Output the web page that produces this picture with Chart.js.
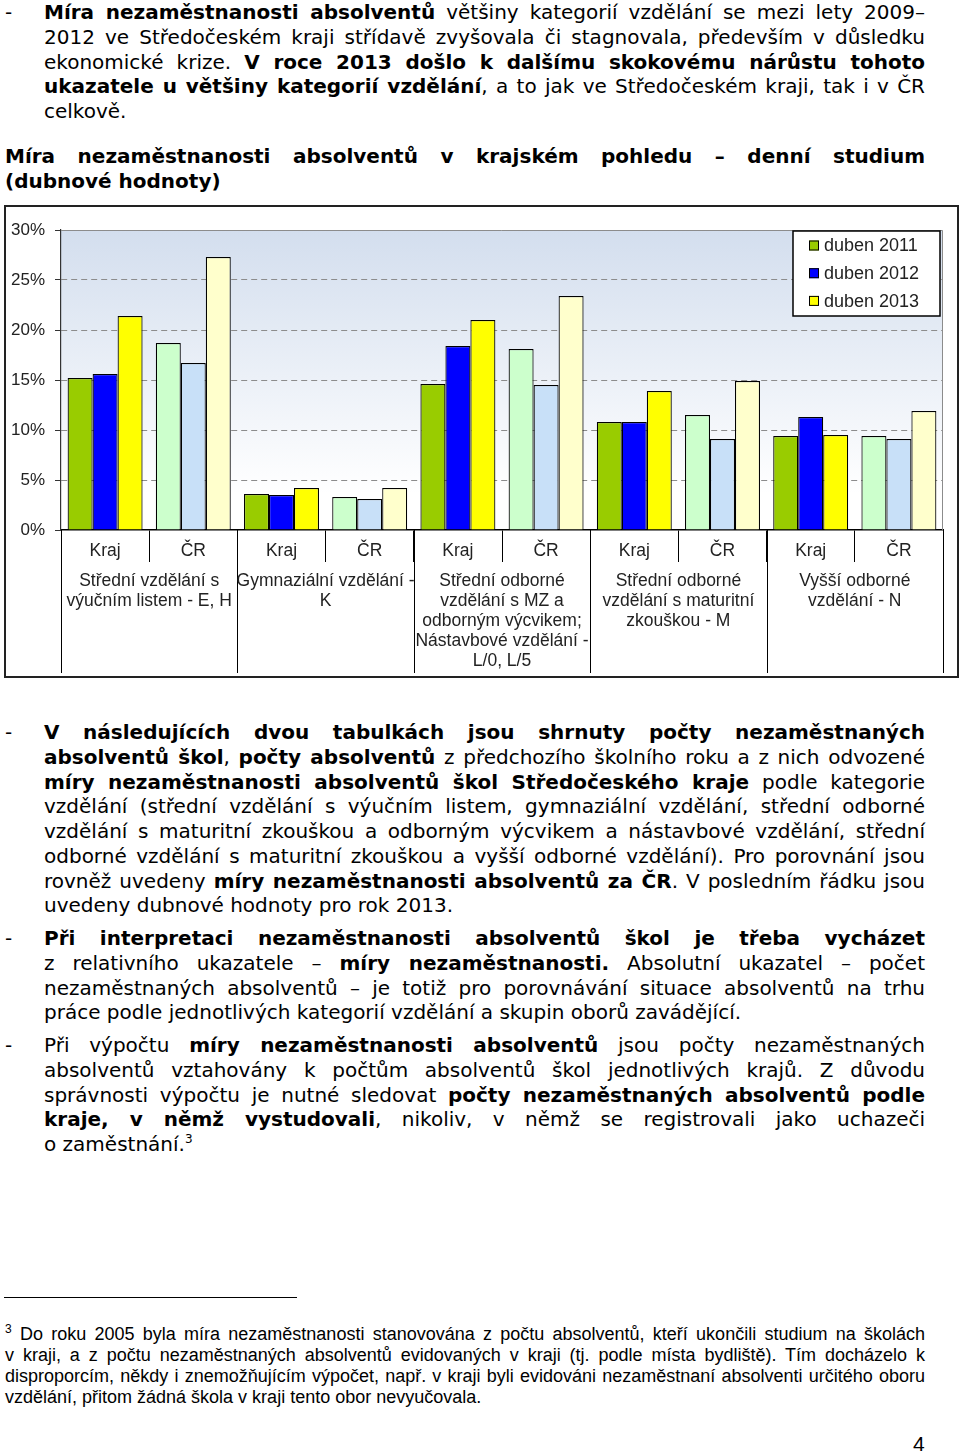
<!DOCTYPE html>
<html>
<head>
<meta charset="utf-8">
<script src="https://cdn.jsdelivr.net/npm/chart.js@4.4.1/dist/chart.umd.min.js"></script>
<style>
  body { margin: 0; width: 960px; height: 1456px; position: relative; overflow: hidden; background: #fff; color: #000;
         font-family: "DejaVu Sans", Verdana, sans-serif; }
  .blk { position: absolute; left: 44px; width: 881px; font-size: 20px; line-height: 24.75px; }
  .blk div { text-align: justify; text-align-last: justify; }
  .blk div.end { text-align-last: left; }
  .dash { position: absolute; left: -39px; top: 0; }
  .head { left: 5px; width: 920px; font-weight: bold; }
  sup { font-size: 12px; line-height: 0; }
  #box { position: absolute; left: 4px; top: 205px; width: 955px; height: 473px; border: 2px solid #222; box-sizing: border-box; }
  #rule { position: absolute; left: 4px; top: 1297px; width: 293px; height: 0; border-top: 1px solid #000; }
  .note { position: absolute; left: 5px; width: 920px; top: 1324px; font-family: "Liberation Sans", Arial, sans-serif; font-size: 18px; line-height: 21px; }
  .note div { text-align: justify; text-align-last: justify; }
  .note div.end { text-align-last: left; }
  .note sup { font-size: 12px; }
  #pg { position: absolute; left: 913px; top: 1432px; font-family: "Liberation Sans", Arial, sans-serif; font-size: 21px; }
</style>
</head>
<body>

<div class="blk" style="top:0px">
  <span class="dash">-</span>
  <div><b>Míra nezaměstnanosti absolventů</b> většiny kategorií vzdělání se mezi lety 2009–</div>
  <div>2012 ve Středočeském kraji střídavě zvyšovala či stagnovala, především v důsledku</div>
  <div>ekonomické krize. <b>V roce 2013 došlo k dalšímu skokovému nárůstu tohoto</b></div>
  <div><b>ukazatele u většiny kategorií vzdělání</b>, a to jak ve Středočeském kraji, tak i v ČR</div>
  <div class="end">celkově.</div>
</div>

<div class="blk head" style="top:144px">
  <div>Míra nezaměstnanosti absolventů v krajském pohledu – denní studium</div>
  <div class="end">(dubnové hodnoty)</div>
</div>

<div id="box"><canvas id="chart"></canvas></div>

<div class="blk" style="top:720px">
  <span class="dash">-</span>
  <div><b>V následujících dvou tabulkách jsou shrnuty počty nezaměstnaných</b></div>
  <div><b>absolventů škol</b>, <b>počty absolventů</b> z předchozího školního roku a z nich odvozené</div>
  <div><b>míry nezaměstnanosti absolventů škol Středočeského kraje</b> podle kategorie</div>
  <div>vzdělání (střední vzdělání s výučním listem, gymnaziální vzdělání, střední odborné</div>
  <div>vzdělání s maturitní zkouškou a odborným výcvikem a nástavbové vzdělání, střední</div>
  <div>odborné vzdělání s maturitní zkouškou a vyšší odborné vzdělání). Pro porovnání jsou</div>
  <div>rovněž uvedeny <b>míry nezaměstnanosti absolventů za ČR</b>. V posledním řádku jsou</div>
  <div class="end">uvedeny dubnové hodnoty pro rok 2013.</div>
</div>

<div class="blk" style="top:926px">
  <span class="dash">-</span>
  <div><b>Při interpretaci nezaměstnanosti absolventů škol je třeba vycházet</b></div>
  <div>z relativního ukazatele – <b>míry nezaměstnanosti.</b> Absolutní ukazatel – počet</div>
  <div>nezaměstnaných absolventů – je totiž pro porovnávání situace absolventů na trhu</div>
  <div class="end">práce podle jednotlivých kategorií vzdělání a skupin oborů zavádějící.</div>
</div>

<div class="blk" style="top:1033px">
  <span class="dash">-</span>
  <div>Při výpočtu <b>míry nezaměstnanosti absolventů</b> jsou počty nezaměstnaných</div>
  <div>absolventů vztahovány k počtům absolventů škol jednotlivých krajů. Z důvodu</div>
  <div>správnosti výpočtu je nutné sledovat <b>počty nezaměstnaných absolventů podle</b></div>
  <div><b>kraje, v němž vystudovali</b>, nikoliv, v němž se registrovali jako uchazeči</div>
  <div class="end">o zaměstnání.<sup>3</sup></div>
</div>

<div id="rule"></div>
<div class="note">
  <div><sup>3</sup> Do roku 2005 byla míra nezaměstnanosti stanovována z počtu absolventů, kteří ukončili studium na školách</div>
  <div>v kraji, a z počtu nezaměstnaných absolventů evidovaných v kraji (tj. podle místa bydliště). Tím docházelo k</div>
  <div>disproporcím, někdy i znemožňujícím výpočet, např. v kraji byli evidováni nezaměstnaní absolventi určitého oboru</div>
  <div class="end">vzdělání, přitom žádná škola v kraji tento obor nevyučovala.</div>
</div>
<div id="pg">4</div>

<script>
// keep every text line on one line: tighten letters a little if a line would wrap
document.querySelectorAll(".blk div, .note div").forEach((el) => {
  const lh = parseFloat(getComputedStyle(el).lineHeight);
  let ls = 0;
  while (el.offsetHeight > lh * 1.5 && ls > -2) {
    ls -= 0.05;
    el.style.letterSpacing = ls + "px";
  }
});

const labels = ["Kraj", "ČR", "Kraj", "ČR", "Kraj", "ČR", "Kraj", "ČR", "Kraj", "ČR"];
const groupNames = [
  ["Střední vzdělání s", "výučním listem - E, H"],
  ["Gymnaziální vzdělání -", "K"],
  ["Střední odborné", "vzdělání s MZ a", "odborným výcvikem;", "Nástavbové vzdělání -", "L/0, L/5"],
  ["Střední odborné", "vzdělání s maturitní", "zkouškou - M"],
  ["Vyšší odborné", "vzdělání - N"]
];
const seriesNames = ["duben 2011", "duben 2012", "duben 2013"];
const duben2011 = [15.2, 18.7, 3.6, 3.3, 14.6, 18.1, 10.8, 11.5, 9.4, 9.4];
const duben2012 = [15.6, 16.7, 3.5, 3.1, 18.4, 14.5, 10.8, 9.1, 11.3, 9.1];
const duben2013 = [21.4, 27.3, 4.2, 4.2, 21.0, 23.4, 13.9, 14.9, 9.5, 11.9];
const yTicks = [0, 5, 10, 15, 20, 25, 30];

const krajColors = ["#99CC00", "#0000FF", "#FFFF00"];
const crColors = ["#CCFFCC", "#C8E0F8", "#FFFFCC"];
const chartFont = "Liberation Sans";

const barColors = (i) => labels.map((l) => (l === "Kraj" ? krajColors[i] : crColors[i]));

// background, plot frame, grouped category labels and the boxed legend
const pagePlugin = {
  id: "page",
  beforeDraw(chart) {
    const { ctx, chartArea: a } = chart;
    const g = ctx.createLinearGradient(0, a.top, 0, a.bottom);
    g.addColorStop(0, "#d3deee");
    g.addColorStop(0.88, "#ffffff");
    ctx.save();
    ctx.fillStyle = g;
    ctx.fillRect(a.left, a.top, a.right - a.left, a.bottom - a.top);
    ctx.restore();
  },
  beforeDatasetsDraw(chart) {
    const { ctx, chartArea: a } = chart;
    ctx.save();
    ctx.strokeStyle = "#8c8c8c";
    ctx.lineWidth = 1;
    ctx.beginPath();
    ctx.moveTo(a.left, a.top + 0.5);
    ctx.lineTo(a.right - 0.5, a.top + 0.5);
    ctx.lineTo(a.right - 0.5, a.bottom);
    ctx.stroke();
    ctx.restore();
  },
  afterDraw(chart) {
    const { ctx, chartArea: a } = chart;
    const x = chart.scales.x;
    ctx.save();

    // separators between the education groups
    const edges = [a.left];
    for (let k = 1; k < groupNames.length; k++) {
      edges.push((x.getPixelForValue(2 * k - 1) + x.getPixelForValue(2 * k)) / 2);
    }
    edges.push(a.right);
    ctx.strokeStyle = "#000";
    ctx.lineWidth = 1;
    edges.forEach((e) => {
      const px = Math.round(e) + 0.5;
      ctx.beginPath();
      ctx.moveTo(px, a.bottom);
      ctx.lineTo(px, chart.height - 3);
      ctx.stroke();
    });

    ctx.fillStyle = "#222";
    ctx.font = "17.5px " + chartFont;
    ctx.textAlign = "center";
    ctx.textBaseline = "middle";
    groupNames.forEach((lines, k) => {
      const cx = (x.getPixelForValue(2 * k) + x.getPixelForValue(2 * k + 1)) / 2;
      lines.forEach((t, j) => ctx.fillText(t, cx, a.bottom + 51 + j * 20));
    });

    // legend
    const w = 147, h = 85;
    const lx = a.right - 3 - w, ly = a.top + 1;
    ctx.fillStyle = "#fff";
    ctx.fillRect(lx, ly, w, h);
    ctx.strokeStyle = "#000";
    ctx.lineWidth = 1.5;
    ctx.strokeRect(lx, ly, w, h);
    ctx.font = "18px " + chartFont;
    ctx.textAlign = "left";
    chart.data.datasets.forEach((ds, i) => {
      const cy = ly + 14.5 + i * 27.7;
      ctx.fillStyle = krajColors[i];
      ctx.fillRect(lx + 16, cy - 5, 10, 10);
      ctx.lineWidth = 1;
      ctx.strokeRect(lx + 16.5, cy - 4.5, 9, 9);
      ctx.fillStyle = "#222";
      ctx.fillText(ds.label, lx + 31, cy + 1);
    });
    ctx.restore();
  }
};

new Chart(document.getElementById("chart"), {
  type: "bar",
  data: {
    labels: labels,
    datasets: [
      { label: seriesNames[0], data: duben2011, backgroundColor: barColors(0) },
      { label: seriesNames[1], data: duben2012, backgroundColor: barColors(1) },
      { label: seriesNames[2], data: duben2013, backgroundColor: barColors(2) }
    ]
  },
  options: {
    responsive: true,
    maintainAspectRatio: false,
    animation: false,
    layout: { padding: { top: 23, right: 14, left: 0, bottom: 0 } },
    datasets: { bar: { categoryPercentage: 0.85, barPercentage: 1, borderColor: "#000", borderWidth: 1.2 } },
    plugins: { legend: { display: false }, tooltip: { enabled: false } },
    scales: {
      x: {
        grid: { offset: true, drawOnChartArea: false, color: "#000", tickLength: 32, lineWidth: 1 },
        border: { color: "#000", width: 1.5 },
        ticks: { font: { family: chartFont, size: 17.5 }, color: "#222", padding: -21, maxRotation: 0, autoSkip: false },
        afterFit: (s) => { s.height = 146; }
      },
      y: {
        min: 0,
        max: 30,
        afterBuildTicks: (s) => { s.ticks = yTicks.map((v) => ({ value: v })); },
        grid: {
          color: (c) => (c.tick && (c.tick.value === 0 || c.tick.value === 30) ? "rgba(0,0,0,0)" : "#8c8c8c"),
          tickColor: "#333",
          tickLength: 6,
          lineWidth: 1
        },
        border: { color: "#333", width: 1.2, dash: [6, 4] },
        ticks: { callback: (v) => v + "%", font: { family: chartFont, size: 17 }, color: "#222", padding: 10 },
        afterFit: (s) => { s.width = 55; }
      }
    }
  },
  plugins: [pagePlugin]
});
</script>
</body>
</html>
